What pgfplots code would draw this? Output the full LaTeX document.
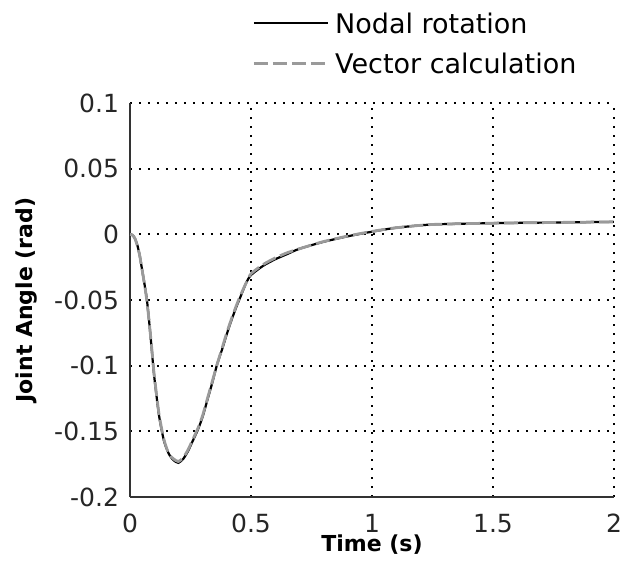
\documentclass[border=0pt]{standalone}
\usepackage{pgfplots}
\pgfplotsset{compat=1.18}
\usepackage{fontspec}
\setmainfont{DejaVu Sans}
\definecolor{vgray}{HTML}{9A9A9A}
\pgfplotstableread{
t y
0 0
0.01 -0.0005
0.02 -0.003
0.03 -0.008
0.04 -0.016
0.05 -0.027
0.06 -0.038
0.07 -0.05
0.08 -0.068
0.09 -0.088
0.10 -0.108
0.12 -0.138
0.14 -0.157
0.16 -0.167
0.18 -0.172
0.20 -0.174
0.22 -0.171
0.24 -0.165
0.26 -0.157
0.28 -0.149
0.30 -0.139
0.32 -0.126
0.34 -0.113
0.36 -0.099
0.38 -0.088
0.40 -0.076
0.42 -0.065
0.44 -0.055
0.46 -0.046
0.48 -0.037
0.50 -0.031
0.55 -0.024
0.60 -0.019
0.65 -0.015
0.70 -0.011
0.80 -0.0057
0.90 -0.0015
1.00 0.002
1.10 0.005
1.25 0.0075
1.50 0.0085
1.75 0.009
2.00 0.0095
}\nodaltab
\pgfplotstableread{
t y
0 0
0.01 -0.0006
0.02 -0.003
0.03 -0.0085
0.04 -0.016
0.05 -0.027
0.06 -0.038
0.07 -0.051
0.08 -0.068
0.09 -0.087
0.10 -0.107
0.12 -0.137
0.14 -0.156
0.16 -0.167
0.18 -0.171
0.20 -0.173
0.22 -0.170
0.24 -0.164
0.26 -0.156
0.28 -0.148
0.30 -0.138
0.32 -0.125
0.34 -0.112
0.36 -0.099
0.38 -0.087
0.40 -0.075
0.42 -0.064
0.44 -0.054
0.46 -0.045
0.48 -0.037
0.50 -0.030
0.55 -0.023
0.60 -0.018
0.65 -0.014
0.70 -0.011
0.80 -0.0055
0.90 -0.0013
1.00 0.0022
1.10 0.005
1.25 0.0075
1.50 0.0085
1.75 0.009
2.00 0.0095
}\vectortab
\begin{document}
\begin{tikzpicture}
\path[use as bounding box] (-65pt,-37pt) rectangle (246pt,248.5pt);
\begin{axis}[
  at={(0,0)}, anchor=south west,
  scale only axis, width=242pt, height=197pt,
  xmin=0, xmax=2, ymin=-0.2, ymax=0.1,
  xtick={0,0.5,1,1.5,2},
  xticklabels={0,0.5,1,1.5,2},
  ytick={-0.2,-0.15,-0.1,-0.05,0,0.05,0.1},
  yticklabels={-0.2,-0.15,-0.1,-0.05,0,0.05,0.1},
  axis x line*=bottom, axis y line*=left,
  axis line style={line width=1pt, black!80, -},
  major tick length=0pt,
  grid=major,
  major grid style={black, line width=0.9pt, dash pattern=on 0.9pt off 3.6pt},
  ticklabel style={font=\fontsize{12.5}{15}\selectfont, text=black!85},
  xticklabel style={yshift=-5pt},
  yticklabel style={xshift=-2pt},
  xlabel={\textbf{Time (s)}},
  ylabel={\textbf{Joint Angle (rad)}},
  label style={font=\fontsize{11}{13}\selectfont},
  xlabel style={at={(axis description cs:0.5,-0.1218)}, anchor=center},
  ylabel style={at={(axis description cs:-0.2128,0.5)}, anchor=center},
  legend style={at={(axis description cs:0,1)}, anchor=north west,
    xshift=61pt, yshift=45pt, draw=none, fill=none, inner sep=0pt,
    row sep=7pt, font=\fontsize{13.5}{16}\selectfont,
    nodes={inner ysep=0pt, inner xsep=3pt, text height=10pt, text depth=3pt}},
  legend cell align=left,
  legend image code/.code={\draw[#1] (0pt,1.5pt) -- (37pt,1.5pt);},
]
\addplot[black, line width=1.1pt, smooth, tension=0.4] table[x=t,y=y] {\nodaltab};
\addlegendentry{Nodal rotation}
\addplot[vgray, line width=1.4pt, dash pattern=on 7pt off 2.5pt, smooth, tension=0.4] table[x=t,y=y] {\vectortab};
\addlegendentry{Vector calculation}
\end{axis}
\end{tikzpicture}
\end{document}
